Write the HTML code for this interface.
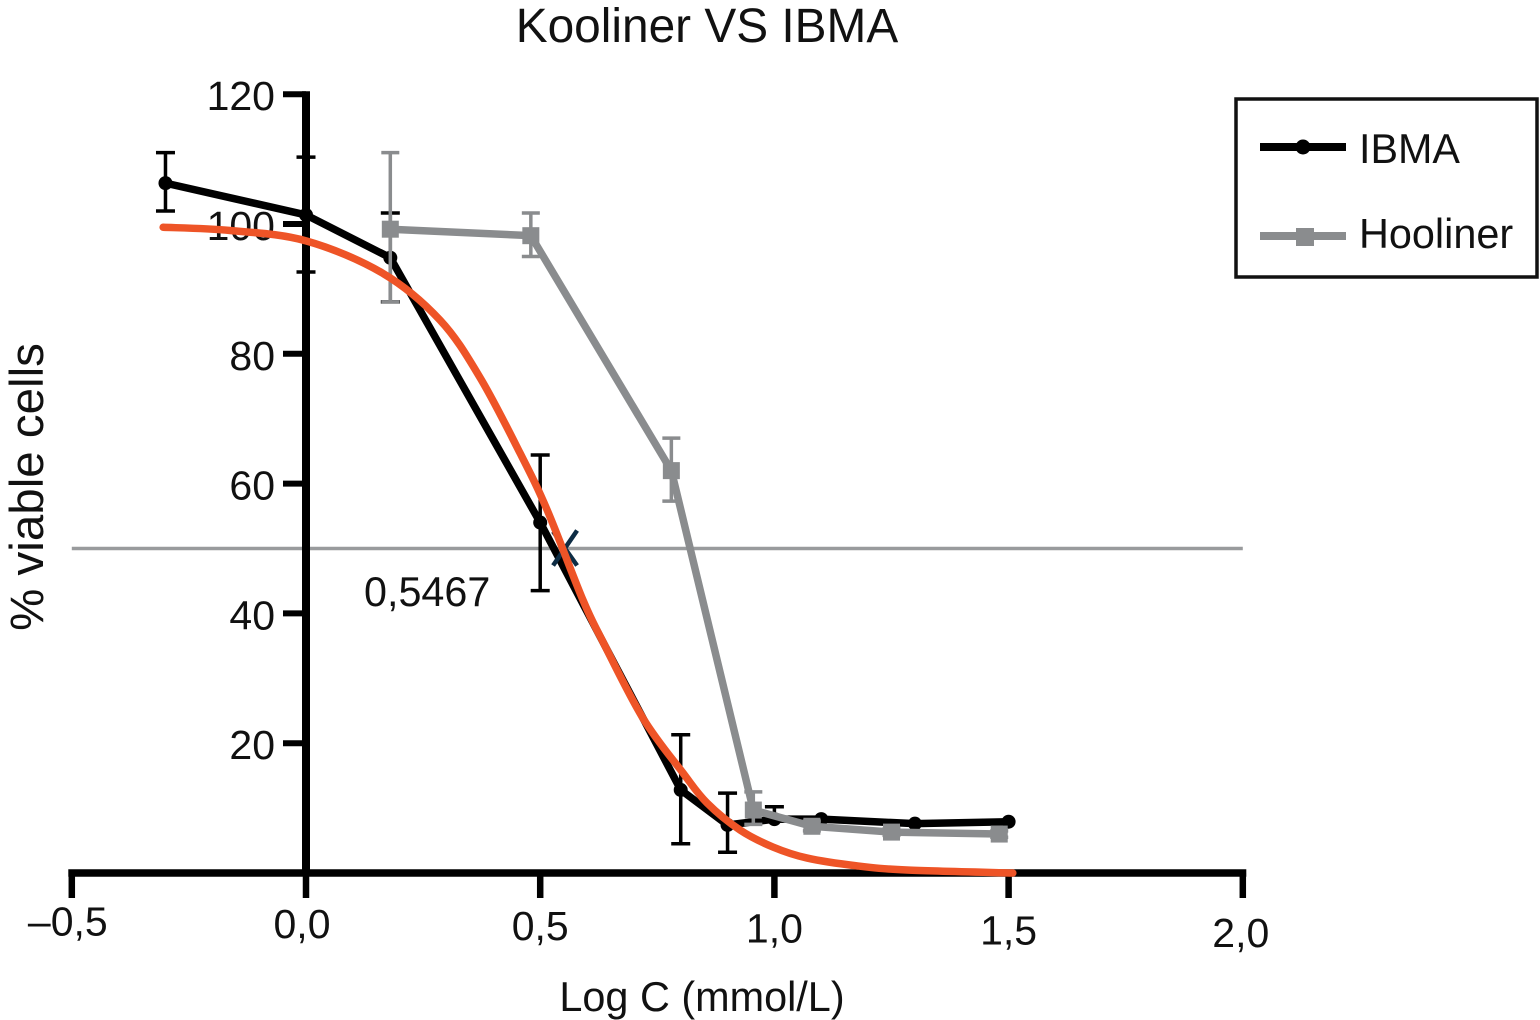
<!DOCTYPE html>
<html lang="en">
<head>
<meta charset="utf-8">
<title>Kooliner VS IBMA</title>
<style>
  html, body { margin: 0; padding: 0; background: #fff; }
  body { width: 1540px; height: 1020px; overflow: hidden; }
  svg { display: block; font-family: "Liberation Sans", Arial, sans-serif; fill: #111; }
</style>
</head>
<body>
<svg id="chart" width="1540" height="1020" viewBox="0 0 1540 1020">
  <text x="707" y="42" font-size="47.8" text-anchor="middle">Kooliner VS IBMA</text>
  <text x="0" y="0" font-size="47.5" text-anchor="middle" transform="translate(43 487) rotate(-90)">% viable cells</text>
  <text x="702" y="1011" font-size="41.4" text-anchor="middle">Log C (mmol/L)</text>
  <text x="364" y="606" font-size="41.3">0,5467</text>
  <g id="reference-layer"></g>
  <g id="series-layer"></g>
  <g id="axis-layer"></g>
  <g id="fit-layer"></g>
  <g>
    <rect x="1236" y="99" width="301" height="178" fill="#fff" stroke="#111" stroke-width="3.5"></rect>
    <line x1="1260" y1="147" x2="1346" y2="147" stroke="#000" stroke-width="8"></line>
    <circle cx="1303" cy="147" r="7.5" fill="#000"></circle>
    <text x="1359" y="163" font-size="41.3">IBMA</text>
    <line x1="1260" y1="236" x2="1346" y2="236" stroke="#8a8c8e" stroke-width="8"></line>
    <rect x="1296" y="228" width="18" height="18" fill="#8a8c8e"></rect>
    <text x="1359" y="248" font-size="41.4">Hooliner</text>
  </g>
</svg>
<script>
const xTicks = [-0.5, 0, 0.5, 1, 1.5, 2];
const xTickLabels = ["\u20130,5", "0,0", "0,5", "1,0", "1,5", "2,0"];
const yTicks = [20, 40, 60, 80, 100, 120];
const yTickLabels = ["20", "40", "60", "80", "100", "120"];

const ibmaX = [-0.3, 0, 0.18, 0.5, 0.8, 0.9, 1, 1.1, 1.3, 1.5];
const ibmaY = [106.3, 101.4, 94.8, 54, 12.8, 7.4, 8.3, 8.3, 7.6, 7.9];
const ibmaHigh = [111, 110.3, 101.7, 64.4, 21.3, 12.3, 10.2, 8.8, 8.0, 8.3];
const ibmaLow = [102, 92.6, 88, 43.5, 4.5, 3.2, 8.0, 7.9, 7.2, 7.5];

const hoolinerX = [0.18, 0.48, 0.78, 0.955, 1.08, 1.25, 1.48];
const hoolinerY = [99.2, 98.2, 62, 9.7, 7.2, 6.3, 6];
const hoolinerHigh = [111, 101.7, 67, 12.5, 8, 6.8, 6.5];
const hoolinerLow = [88, 95, 57.3, 7.5, 6.5, 5.8, 5.5];

const fitX = [-0.305, -0.162, 0, 0.164, 0.286, 0.371, 0.457, 0.515, 0.591, 0.632, 0.719, 0.805, 0.856, 0.927, 0.997, 1.07, 1.176, 1.283, 1.509];
const fitY = [99.5, 99, 97.4, 92.4, 85.2, 76.4, 64.7, 55.9, 42.1, 35.9, 23.9, 15.4, 10.8, 6.6, 4, 2.3, 1.1, 0.46, 0];

const referenceLevel = [50];
const ic50 = [0.5467];

const xScale = v => 306 + v * 468.4;
const yScale = v => 873 - v * 6.49;
const SVG_NS = "http://www.w3.org/2000/svg";

function make(tag, parent, attrs) {
  const el = document.createElementNS(SVG_NS, tag);
  for (const k in attrs) el.setAttribute(k, attrs[k]);
  parent.appendChild(el);
  return el;
}

const referenceLayer = document.getElementById("reference-layer");
const seriesLayer = document.getElementById("series-layer");
const axisLayer = document.getElementById("axis-layer");
const fitLayer = document.getElementById("fit-layer");

/* reference line at 50% */
const refLine = make("line", referenceLayer, { x1: xScale(-0.5), x2: xScale(2), y1: yScale(referenceLevel[0]), y2: yScale(referenceLevel[0]), stroke: "#999b9d", "stroke-width": 3.5 });



/* error bars, connecting line and markers for one series */
function drawSeries(xs, ys, hi, lo, color, capHalf, isSquare) {
  xs.forEach((v, i) => {
    const x = xScale(v);
    const top = yScale(hi[i]);
    const bottom = yScale(lo[i]);
    if (bottom - top < 6) return;
    const bar = make("path", seriesLayer, {
      d: `M${x - capHalf} ${top}H${x + capHalf}M${x} ${top}V${bottom}M${x - capHalf} ${bottom}H${x + capHalf}`,
      fill: "none", stroke: color, "stroke-width": 3.5
    });
    
    
  });
  const line = make("polyline", seriesLayer, {
    points: xs.map((v, i) => xScale(v) + "," + yScale(ys[i])).join(" "),
    fill: "none", stroke: color, "stroke-width": 7.5, "stroke-linejoin": "round"
  });
  
  
  xs.forEach((v, i) => {
    const x = xScale(v);
    const y = yScale(ys[i]);
    const mark = isSquare
      ? make("rect", seriesLayer, { x: x - 8.5, y: y - 8.5, width: 17, height: 17, fill: color })
      : make("circle", seriesLayer, { cx: x, cy: y, r: 7, fill: color });
    
    
  });
}
drawSeries(ibmaX, ibmaY, ibmaHigh, ibmaLow, "#000", 9.5, false);
drawSeries(hoolinerX, hoolinerY, hoolinerHigh, hoolinerLow, "#8a8c8e", 9, true);

/* axes */
const xAxisLine = make("line", axisLayer, { x1: xScale(-0.5) - 3.5, x2: xScale(2) + 3.5, y1: yScale(0), y2: yScale(0), stroke: "#000", "stroke-width": 7.5 });


const yAxisLine = make("line", axisLayer, { x1: xScale(0), x2: xScale(0), y1: yScale(120) - 3, y2: yScale(0), stroke: "#000", "stroke-width": 8 });



xTicks.forEach((v, i) => {
  const x = xScale(v);
  const tick = make("line", axisLayer, { x1: x, x2: x, y1: yScale(0), y2: yScale(0) + 25, stroke: "#000", "stroke-width": 6.5 });
  
  
  const label = make("text", axisLayer, { x: x + (v < 0.5 ? -4 : (v > 1.7 ? -2 : 0)), y: 935.5 + (v + 0.5) * 4.5, "font-size": 41, "text-anchor": "middle" });
  label.textContent = xTickLabels[i];
  
  
});

yTicks.forEach((v, i) => {
  const y = yScale(v);
  const tick = make("line", axisLayer, { x1: xScale(0) - 23, x2: xScale(0), y1: y, y2: y, stroke: "#000", "stroke-width": 6 });
  
  
  const label = make("text", axisLayer, { x: xScale(0) - 31, y: y + 16, "font-size": 41, "text-anchor": "end" });
  label.textContent = yTickLabels[i];
  
  
});

/* IC50 cross marker */
const cx = xScale(ic50[0]) + 3;
const cy = yScale(referenceLevel[0]);
const cross = make("path", fitLayer, {
  d: `M${cx - 12} ${cy - 17}L${cx + 12} ${cy + 17}M${cx + 12} ${cy - 18}L${cx - 12} ${cy + 17}`,
  fill: "none", stroke: "#0d2c44", "stroke-width": 4.5
});



/* fitted curve, smoothed through the read points */
function smoothPath(xs, ys) {
  const p = xs.map((v, i) => [xScale(v), yScale(ys[i])]);
  let d = `M${p[0][0]} ${p[0][1]}`;
  for (let i = 0; i < p.length - 1; i++) {
    const a = p[Math.max(i - 1, 0)], b = p[i], c = p[i + 1], e = p[Math.min(i + 2, p.length - 1)];
    d += `C${b[0] + (c[0] - a[0]) / 6} ${b[1] + (c[1] - a[1]) / 6} ${c[0] - (e[0] - b[0]) / 6} ${c[1] - (e[1] - b[1]) / 6} ${c[0]} ${c[1]}`;
  }
  return d;
}
const fit = make("path", fitLayer, { d: smoothPath(fitX, fitY), fill: "none", stroke: "#ee5427", "stroke-width": 7.5, "stroke-linecap": "round" });


</script>
</body>
</html>
